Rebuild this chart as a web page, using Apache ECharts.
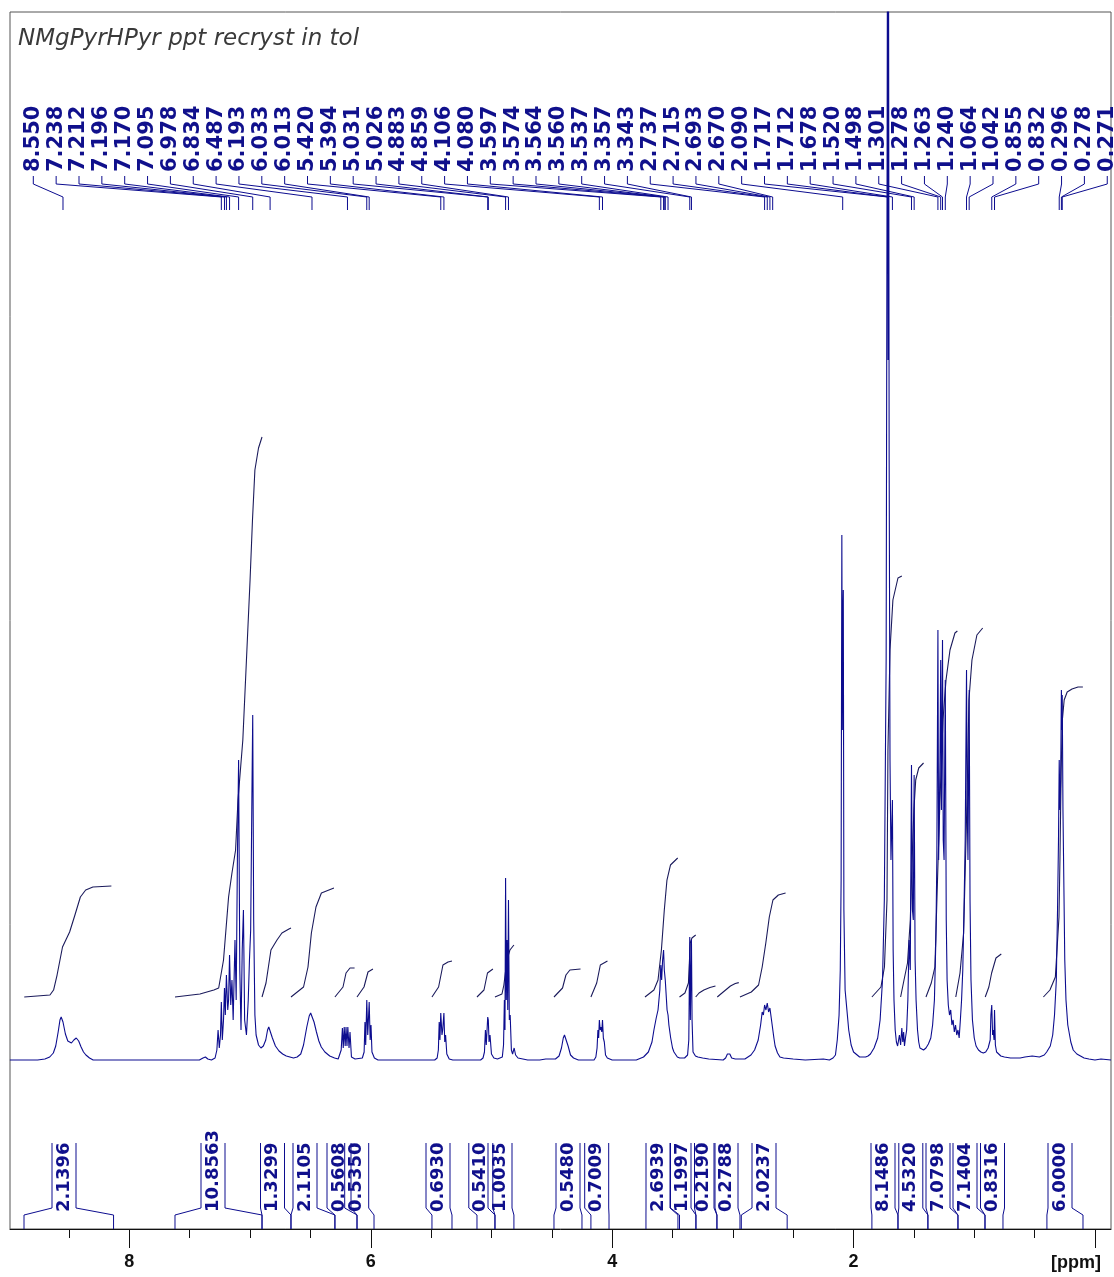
<!DOCTYPE html>
<html><head><meta charset="utf-8">
<script src="https://cdn.jsdelivr.net/npm/echarts@6/dist/echarts.min.js"></script>
<style>html,body{margin:0;padding:0;background:#fff;}#c{width:1114px;height:1277px;}</style>
</head><body><div id="c"></div>
<script>
// ---------- DATA ----------
const titleText = 'NMgPyrHPyr ppt recryst in tol';
const axisUnit = '[ppm]';
const minorTicks = [0,0.5,1,1.5,2,2.5,3,3.5,4,4.5,5,5.5,6,6.5,7,7.5,8,8.5];
const majorTicks = [0,2,4,6,8];
const tickLabels = [2,4,6,8];

const peakLabels = ['8.550','7.238','7.212','7.196','7.170','7.095','6.978','6.834','6.487','6.193','6.033','6.013',
  '5.420','5.394','5.031','5.026','4.883','4.859','4.106','4.080','3.597','3.574','3.564','3.560','3.537','3.357',
  '3.343','2.737','2.715','2.693','2.670','2.090','1.717','1.712','1.678','1.520','1.498','1.301','1.278','1.263',
  '1.240','1.064','1.042','0.855','0.832','0.296','0.278','0.271'];

const integralLabels = ['2.1396','10.8563','1.3299','2.1105','0.5608','0.5350','0.6930','0.5410','1.0035','0.5480',
  '0.7009','2.6939','1.1997','0.2190','0.2788','2.0237','8.1486','4.5320','7.0798','7.1404','0.8316','6.0000'];
const integralBounds = [[8.873,8.131],[7.622,6.901],[6.901,6.661],[6.661,6.297],[6.297,6.114],[6.114,5.973],
  [5.493,5.327],[5.120,4.971],[4.971,4.814],[4.482,4.250],[4.176,4.026],[3.720,3.455],[3.442,3.306],[3.306,3.132],
  [3.132,2.941],[2.930,2.550],[1.848,1.632],[1.632,1.384],[1.384,1.135],[1.135,0.911],[0.911,0.762],[0.398,0.099]];

// spectrum: [ppm, intensity]
const spectrum = [
 [8.99,0],[8.76,0],[8.70,1],[8.66,3],[8.63,7],[8.61,14],[8.59,28],[8.575,40],[8.565,43],[8.55,38],[8.53,26],[8.51,19],[8.48,17],[8.46,20],[8.44,22],[8.42,19],[8.40,13],[8.38,8],[8.36,5],[8.33,2],[8.30,0],
 [7.42,0],[7.39,2],[7.37,3],[7.35,1],[7.32,0],
 [7.29,2],[7.275,10],[7.265,30],[7.255,12],[7.245,25],[7.238,58],[7.23,20],[7.22,40],[7.212,72],[7.205,45],[7.196,85],[7.185,50],[7.178,60],[7.170,105],[7.16,55],[7.15,80],[7.14,40],[7.125,120],[7.115,60],[7.105,200],[7.095,300],[7.085,90],[7.075,30],[7.065,110],[7.055,150],[7.045,40],[7.03,25],[7.015,60],[7.005,100],[6.995,130],[6.985,260],[6.978,345],[6.97,140],[6.96,45],[6.95,25],[6.93,15],[6.91,12],[6.89,14],
 [6.87,20],[6.855,30],[6.845,33],[6.83,31],[6.815,22],[6.79,14],[6.76,9],[6.73,6],[6.70,4],[6.67,3],[6.64,2],[6.61,3],
 [6.58,6],[6.557,15],[6.53,33],[6.51,44],[6.498,47],[6.485,45],[6.47,38],[6.45,28],[6.43,19],[6.41,13],[6.38,8],[6.34,4],[6.30,2],[6.27,1],
 [6.255,2],[6.245,10],[6.235,32],[6.228,12],[6.22,33],[6.212,14],[6.205,33],[6.197,14],[6.19,33],[6.18,12],[6.172,28],[6.16,3],[6.13,1],
 [6.07,2],[6.055,8],[6.048,38],[6.042,15],[6.033,60],[6.025,25],[6.013,58],[6.005,20],[5.998,35],[5.99,8],[5.97,2],[5.94,0],
 [5.47,0],[5.45,2],[5.44,10],[5.433,38],[5.427,20],[5.420,47],[5.41,25],[5.404,30],[5.394,47],[5.387,18],[5.38,25],[5.37,6],[5.35,1],[5.32,0],
 [5.09,0],[5.07,2],[5.058,8],[5.05,30],[5.043,15],[5.031,43],[5.026,40],[5.02,18],[5.012,25],[5.0,6],[4.98,2],[4.95,1],
 [4.91,3],[4.90,15],[4.893,60],[4.888,30],[4.883,182],[4.877,60],[4.871,120],[4.865,50],[4.859,160],[4.852,40],[4.845,45],[4.835,10],[4.825,6],[4.812,12],[4.80,5],[4.78,2],[4.74,1],[4.70,0],[4.60,0],[4.55,1],
 [4.47,1],[4.44,4],[4.42,12],[4.405,22],[4.395,25],[4.38,24],[4.365,14],[4.345,5],[4.32,2],[4.28,0],
 [4.15,0],[4.135,3],[4.125,12],[4.118,30],[4.112,22],[4.106,40],[4.099,30],[4.093,33],[4.086,28],[4.080,40],[4.073,22],[4.065,18],[4.055,5],[4.04,2],[4.00,0],
 [3.80,0],[3.74,3],[3.70,8],[3.67,18],[3.654,30],[3.635,42],[3.62,50],[3.605,70],[3.597,95],[3.59,80],[3.582,100],[3.574,110],[3.568,90],[3.564,85],[3.560,80],[3.55,60],[3.545,50],[3.537,45],[3.53,35],[3.515,22],[3.50,12],[3.488,8],[3.46,3],[3.44,2],
 [3.40,2],[3.375,5],[3.365,20],[3.357,123],[3.352,40],[3.349,70],[3.343,120],[3.338,40],[3.33,8],[3.31,4],[3.29,3],[3.25,2],[3.20,1],
 [3.08,0],[3.06,2],[3.045,6],[3.035,4],[3.025,6],[3.01,2],[2.98,1],
 [2.90,1],[2.85,5],[2.82,10],[2.79,20],[2.77,35],[2.757,48],[2.747,45],[2.737,55],[2.726,50],[2.715,57],[2.704,48],[2.693,52],[2.682,42],[2.670,40],[2.66,22],[2.65,14],[2.63,7],[2.61,3],[2.58,2],[2.50,1],[2.40,0],[2.25,1],[2.20,0],
 [2.17,2],[2.15,5],[2.135,20],[2.12,45],[2.11,90],[2.103,180],[2.097,525],[2.093,330],[2.089,440],[2.085,470],[2.08,150],[2.07,70],[2.055,50],[2.04,30],[2.02,15],[2.0,8],[1.97,5],[1.95,3],[1.90,3],[1.88,4],
 [1.86,6],[1.83,12],[1.80,22],[1.78,40],[1.76,80],[1.745,160],[1.73,400],[1.722,900],[1.717,1300],[1.714,700],[1.712,1300],[1.705,600],[1.698,300],[1.69,200],[1.684,230],[1.678,260],[1.672,110],[1.665,60],[1.655,30],[1.645,18],[1.635,14],
 [1.62,25],[1.61,15],[1.60,32],[1.592,18],[1.585,28],[1.578,14],[1.57,22],[1.56,30],[1.55,60],[1.54,120],[1.530,90],[1.520,295],[1.512,150],[1.505,140],[1.498,285],[1.49,100],[1.482,60],[1.47,30],[1.46,18],[1.45,12],[1.44,10],[1.42,10],[1.40,12],[1.38,16],[1.36,22],[1.345,35],[1.33,60],[1.318,120],[1.310,200],[1.301,430],[1.295,200],[1.289,250],[1.284,300],[1.278,400],[1.272,250],[1.263,420],[1.257,220],[1.250,200],[1.240,380],[1.232,140],[1.225,80],[1.215,55],[1.205,45],[1.195,50],[1.185,35],[1.175,40],[1.165,28],[1.155,35],[1.145,25],[1.135,30],[1.125,22],[1.115,40],[1.105,60],[1.095,90],[1.085,150],[1.075,220],[1.064,390],[1.058,250],[1.052,200],[1.042,370],[1.035,160],[1.027,80],[1.015,40],[1.0,22],[0.985,14],[0.965,10],[0.945,8],[0.925,7],[0.905,8],[0.885,12],[0.868,20],[0.862,45],[0.855,55],[0.848,25],[0.843,30],[0.836,20],[0.832,50],[0.825,15],[0.815,8],[0.80,6],[0.78,4],[0.75,3],[0.70,2],[0.62,2],[0.58,3],[0.52,4],[0.46,3],[0.42,5],[0.40,8],[0.37,14],[0.35,25],[0.335,45],[0.32,80],[0.31,150],[0.302,220],[0.296,300],[0.290,250],[0.284,280],[0.278,370],[0.274,330],[0.271,365],[0.265,250],[0.258,180],[0.25,100],[0.24,60],[0.225,35],[0.20,18],[0.18,10],[0.15,6],[0.12,4],[0.09,2],[0.05,1],[0.0,0],[-0.05,1],[-0.133,0]
];

// integral curves: [ppm, level]
const integral1 = [[8.871,63],[8.658,65],[8.628,70],[8.599,85],[8.554,113],[8.495,128],[8.451,145],[8.406,163],[8.362,170],[8.302,173],[8.149,174]];
const integral2 = [[7.622,63],[7.415,66],[7.30,70],[7.26,72],[7.22,100],[7.178,163],[7.15,187],[7.12,210],[7.10,260],[7.06,320],[7.03,400],[7.00,480],[6.98,540],[6.96,590],[6.93,612],[6.901,623]];
const integral3 = [[6.901,63],[6.868,77],[6.827,110],[6.777,120],[6.736,127],[6.678,131],[6.661,132]];
const integral4 = [[6.661,63],[6.557,73],[6.520,93],[6.492,127],[6.454,153],[6.409,167],[6.305,172]];
const integral5 = [[6.297,63],[6.230,73],[6.205,87],[6.172,92],[6.134,92]];
const integral6 = [[6.114,63],[6.056,73],[6.023,88],[5.982,91]];
const integral7 = [[5.493,63],[5.438,73],[5.402,95],[5.360,98],[5.327,99]];
const integral8 = [[5.120,63],[5.062,70],[5.033,87],[4.988,91]];
const integral9 = [[4.971,63],[4.913,66],[4.897,75],[4.872,100],[4.847,110],[4.814,115]];
const integral10 = [[4.482,63],[4.411,72],[4.383,85],[4.350,90],[4.262,91]];
const integral11 = [[4.176,63],[4.128,77],[4.098,95],[4.039,99]];
const integral12 = [[3.728,63],[3.654,70],[3.62,80],[3.592,110],[3.568,150],[3.546,180],[3.517,195],[3.457,202]];
const integral13 = [[3.442,63],[3.397,67],[3.368,77],[3.353,117],[3.339,122],[3.308,125]];
const integral14 = [[3.308,63],[3.28,67],[3.24,70],[3.19,72.5],[3.144,74]];
const integral15 = [[3.129,63],[3.10,66],[3.06,70],[3.02,74],[2.98,76.5],[2.951,77.4]];
const integral16 = [[2.941,63],[2.847,68],[2.787,75],[2.757,93],[2.727,117],[2.698,143],[2.668,160],[2.623,165],[2.563,167]];
const integral17 = [[1.848,63],[1.773,73],[1.744,93],[1.723,160],[1.715,310],[1.698,410],[1.674,460],[1.632,482],[1.60,484]];
const integral18 = [[1.61,63],[1.582,80],[1.553,97],[1.53,140],[1.515,200],[1.50,250],[1.485,280],[1.46,292],[1.42,297]];
const integral19 = [[1.40,63],[1.356,77],[1.326,93],[1.297,210],[1.284,260],[1.259,340],[1.234,380],[1.201,410],[1.16,427],[1.14,429]];
const integral20 = [[1.153,63],[1.118,87],[1.088,127],[1.06,260],[1.044,360],[1.019,400],[0.978,425],[0.93,432]];
const integral21 = [[0.909,63],[0.879,73],[0.856,87],[0.82,102],[0.776,106]];
const integral22 = [[0.427,63],[0.373,70],[0.328,83],[0.298,143],[0.29,200],[0.28,290],[0.27,340],[0.255,360],[0.23,368],[0.19,371],[0.14,373],[0.10,373]];
const integralCurves = [integral1,integral2,integral3,integral4,integral5,integral6,integral7,integral8,integral9,integral10,integral11,
  integral12,integral13,integral14,integral15,integral16,integral17,integral18,integral19,integral20,integral21,integral22];

// ---------- LAYOUT (pixels) ----------
const integralLabelX = [64,213,272.5,305,339,356.7,438,480.8,500,568,596.7,658,682.5,703,726,764,883,910.8,938,965,992.5,1060];
const peakLabelX0 = 33.3, peakLabelStep = 22.85;

const SPEC = '#0c0c8f', INTC = '#1b1b5c', TXT = '#10108c';
const chart = echarts.init(document.getElementById('c'));

const series = [{
  type:'line', data: spectrum, showSymbol:false, symbol:'none', clip:true, animation:false,
  lineStyle:{color:SPEC, width:1.1}, z:3
}];
integralCurves.forEach(c => series.push({
  type:'line', data:c, showSymbol:false, symbol:'none', animation:false, lineStyle:{color:INTC,width:1.1}, z:2
}));

const xCommon = {type:'value', min:-0.133, max:8.989, inverse:true, position:'bottom', splitLine:{show:false}};
chart.setOption({
  animation:false,
  grid:{left:10, right:3, top:12, bottom:48, show:true, borderColor:'#555', borderWidth:1, backgroundColor:'#fff'},
  xAxis:[
    Object.assign({}, xCommon, {
      axisLine:{show:true, onZero:false, lineStyle:{color:'#111', width:1}},
      axisTick:{show:true, length:9, customValues:minorTicks, lineStyle:{color:'#111'}},
      axisLabel:{show:false}
    }),
    Object.assign({}, xCommon, {
      axisLine:{show:false, onZero:false},
      axisTick:{show:true, length:19, customValues:majorTicks, lineStyle:{color:'#111'}},
      axisLabel:{show:true, customValues:tickLabels, margin:24, color:'#111', fontSize:18, fontWeight:'bold', fontFamily:'Liberation Sans'}
    })
  ],
  yAxis:{type:'value', min:-169, max:1048, show:false, splitLine:{show:false}},
  series: series
});

// ---------- annotations ----------
const X = v => chart.convertToPixel({xAxisIndex:0}, v);
const g = [];
g.push({type:'text', x:18, y:39, style:{text:titleText, font:'italic 23px "DejaVu Sans"', fill:'#3a3a3a', align:'left', verticalAlign:'middle'}});
g.push({type:'text', x:1101, y:1263, style:{text:axisUnit, font:'bold 18px "Liberation Sans"', fill:'#111', align:'right', verticalAlign:'middle'}});

peakLabels.forEach((t,i) => {
  const lx = peakLabelX0 + i*peakLabelStep;
  const px = X(parseFloat(t));
  g.push({type:'text', x:lx, y:172, rotation:Math.PI/2,
    style:{text:t, font:'bold 21px "DejaVu Sans"', fill:TXT, align:'left', verticalAlign:'middle'}});
  g.push({type:'polyline', shape:{points:[[lx,176],[lx,184],[px,197],[px,210]]},
    style:{stroke:SPEC, lineWidth:1, fill:null}});
});

const yAx = 1229, yFoot = 1215, yShoulder = 1208, yTop = 1143;
integralLabels.forEach((t,i) => {
  const cx = integralLabelX[i];
  const x1 = X(integralBounds[i][0]), x2 = X(integralBounds[i][1]);
  const xl = cx - 12, xr = cx + 12;
  g.push({type:'polyline', shape:{points:[[x1,yAx],[x1,yFoot],[xl,yShoulder],[xl,yTop]]}, style:{stroke:SPEC,lineWidth:1,fill:null}});
  g.push({type:'polyline', shape:{points:[[xr,yTop],[xr,yShoulder],[x2,yFoot],[x2,yAx]]}, style:{stroke:SPEC,lineWidth:1,fill:null}});
  g.push({type:'text', x:cx, y:1212, rotation:Math.PI/2,
    style:{text:t, font:'bold 18px "DejaVu Sans"', fill:TXT, align:'left', verticalAlign:'middle'}});
});
chart.setOption({graphic:{elements:g}});
</script></body></html>
